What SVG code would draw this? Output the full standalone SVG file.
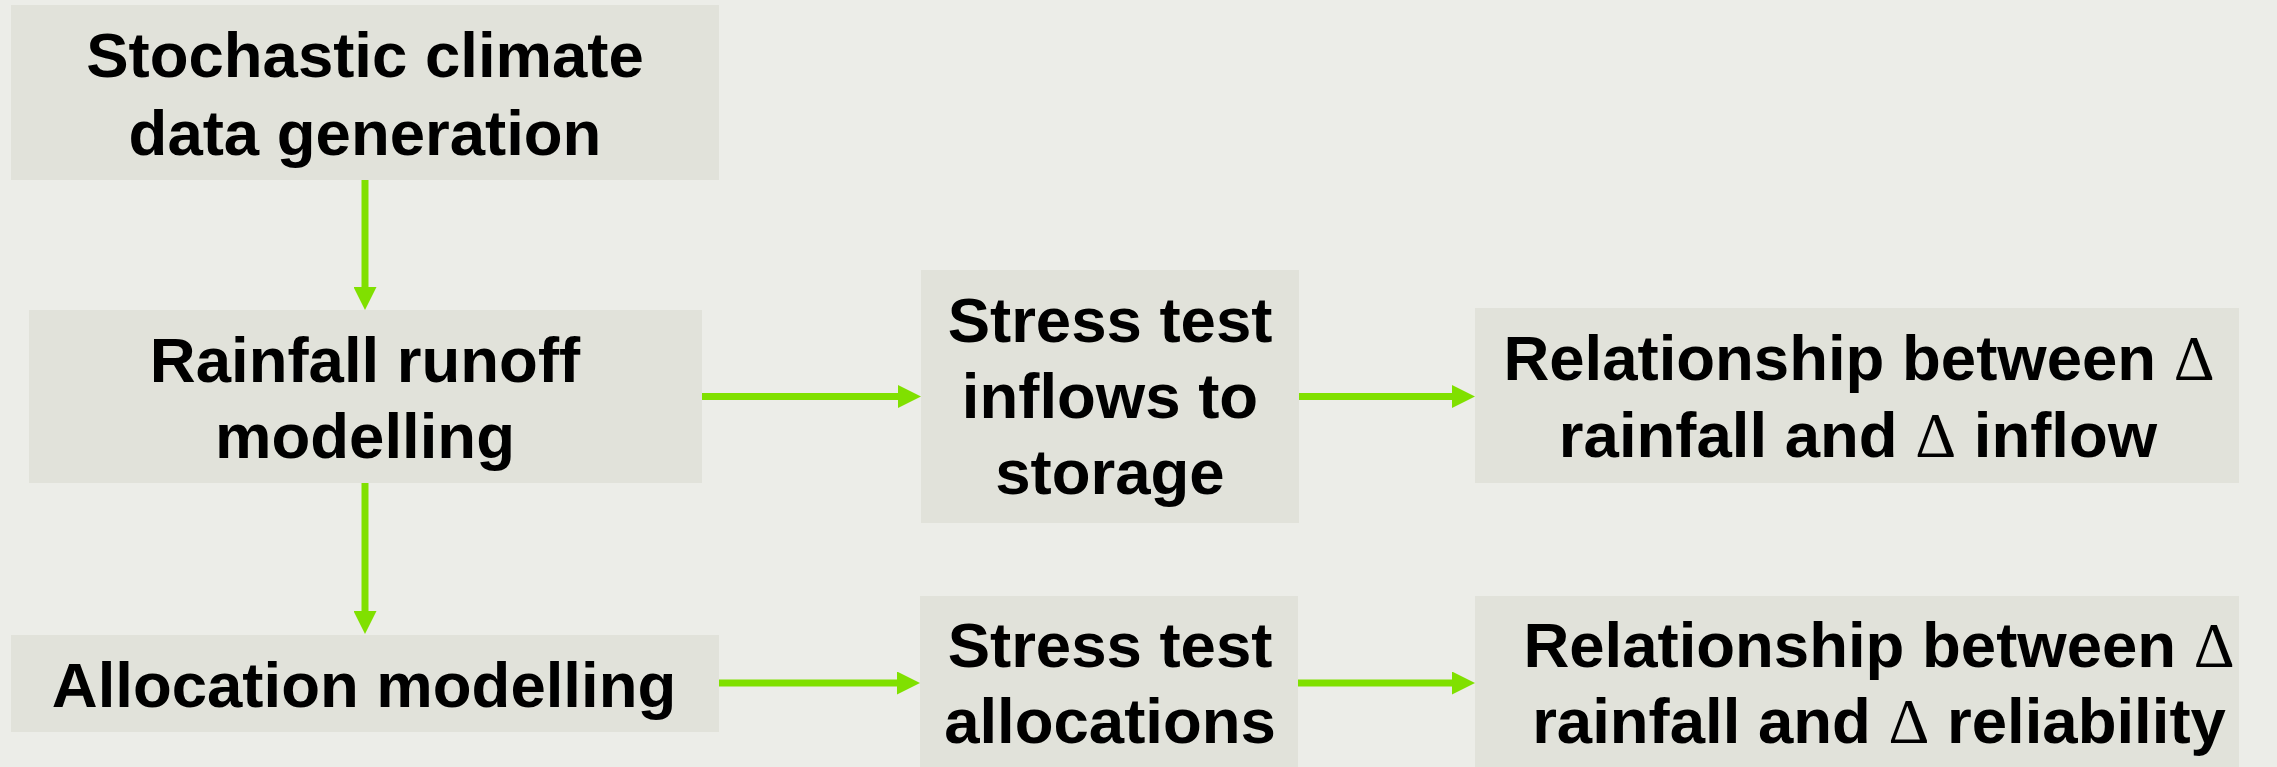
<svg xmlns="http://www.w3.org/2000/svg" width="2277" height="767" viewBox="0 0 2277 767">
<style>
.box{fill:#E1E2DA}
.t{font-family:"Liberation Sans",Arial,sans-serif;font-weight:bold;font-size:63.5px;fill:#000;text-anchor:middle}
.d{font-family:"Liberation Serif","Times New Roman",serif;font-weight:normal}
.c{stroke:#80E000;stroke-width:7;fill:none}
</style>
<defs>
<marker id="ah" markerUnits="userSpaceOnUse" markerWidth="23" markerHeight="23" refX="0" refY="11.5" orient="auto">
<path d="M0,0 L23,11.5 L0,23 z" fill="#80E000"/>
</marker>
</defs>
<rect x="0" y="0" width="2277" height="767" fill="#ECEDE8"/>
<g id="connectors">
<line class="c" x1="365" y1="180" x2="365" y2="287" marker-end="url(#ah)"/>
<line class="c" x1="365" y1="483" x2="365" y2="611" marker-end="url(#ah)"/>
<line class="c" x1="702" y1="396.5" x2="898" y2="396.5" marker-end="url(#ah)"/>
<line class="c" x1="1299" y1="396.5" x2="1452" y2="396.5" marker-end="url(#ah)"/>
<line class="c" x1="719" y1="683" x2="897" y2="683" marker-end="url(#ah)"/>
<line class="c" x1="1298" y1="683" x2="1452" y2="683" marker-end="url(#ah)"/>
</g>
<g id="stochastic">
<rect class="box" x="11" y="5" width="708" height="175"/>
<text class="t" x="365" y="77">Stochastic climate</text>
<text class="t" x="365" y="155">data generation</text>
</g>
<g id="rainfall-runoff">
<rect class="box" x="29" y="310" width="673" height="173"/>
<text class="t" x="365" y="382">Rainfall runoff</text>
<text class="t" x="365" y="458">modelling</text>
</g>
<g id="allocation">
<rect class="box" x="11" y="635" width="708" height="97"/>
<text class="t" x="364" y="707">Allocation modelling</text>
</g>
<g id="stress-inflows">
<rect class="box" x="921" y="270" width="378" height="253"/>
<text class="t" x="1110" y="342">Stress test</text>
<text class="t" x="1110" y="418">inflows to</text>
<text class="t" x="1110" y="494">storage</text>
</g>
<g id="stress-allocations">
<rect class="box" x="920" y="596" width="378" height="171"/>
<text class="t" x="1110" y="667">Stress test</text>
<text class="t" x="1110" y="743">allocations</text>
</g>
<g id="rel-inflow">
<rect class="box" x="1475" y="308" width="764" height="175"/>
<text class="t" x="1859" y="380">Relationship between <tspan class="d">Δ</tspan></text>
<text class="t" x="1858" y="457">rainfall and <tspan class="d">Δ</tspan> inflow</text>
</g>
<g id="rel-reliability">
<rect class="box" x="1475" y="596" width="764" height="171"/>
<text class="t" x="1879" y="667">Relationship between <tspan class="d">Δ</tspan></text>
<text class="t" x="1879" y="743">rainfall and <tspan class="d">Δ</tspan> reliability</text>
</g>
</svg>
